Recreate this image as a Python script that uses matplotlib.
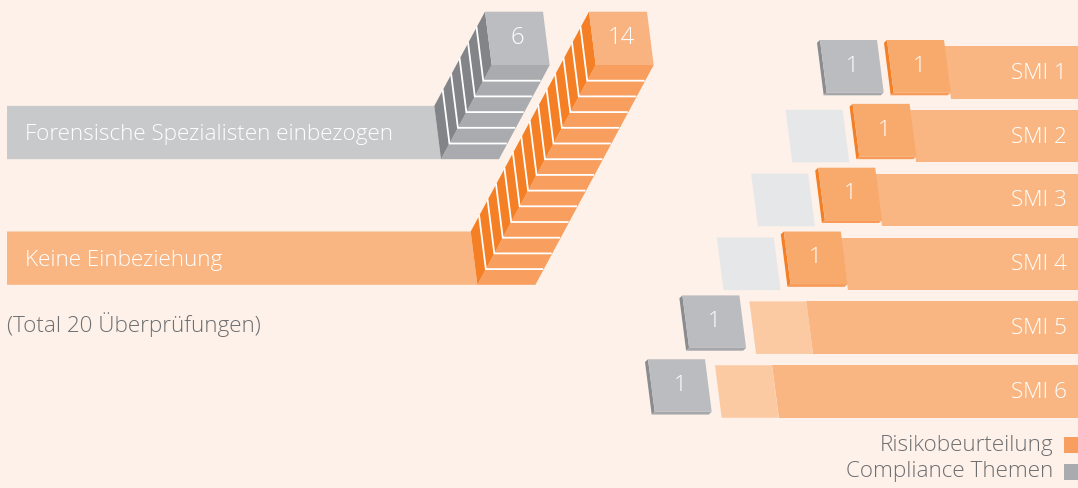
import matplotlib
matplotlib.use("Agg")
import matplotlib.pyplot as plt
from matplotlib.patches import Polygon

# ---------------- data ----------------
stack_labels = ["Forensische Spezialisten einbezogen", "Keine Einbeziehung"]
stack_counts = [6, 14]
total_note = "(Total 20 Überprüfungen)"

smi_labels = ["SMI 1", "SMI 2", "SMI 3", "SMI 4", "SMI 5", "SMI 6"]
risk = [1, 1, 1, 1, 0, 0]          # Risikobeurteilung
compliance = [1, 0, 0, 0, 1, 1]    # Compliance Themen
legend_labels = ["Risikobeurteilung", "Compliance Themen"]

# ---------------- style ----------------
BG = "#fdf1e9"
TXT = "#6d6e71"
GRAY = dict(bar="#c8c9cb", face="#bcbdc0", bottom="#a9abae", side="#828488")
ORNG = dict(bar="#f9b682", face="#f9b380", bottom="#f89e5e", side="#f47f25")
TILE_O = dict(face="#f8a96c", bottom="#f89a58", side="#f37f26")
TILE_G = dict(face="#bbbcbf", bottom="#a5a7aa", side="#8a8c8f")
PH_G = "#e6e7e9"
PH_O = "#fccaa2"
FONT = ["Open Sans", "DejaVu Sans"]
FS = 16.2

W, H = 1078, 488
fig = plt.figure(figsize=(W / 100, H / 100), dpi=100)
fig.patch.set_facecolor(BG)
ax = fig.add_axes([0, 0, 1, 1])
ax.set_xlim(0, W)
ax.set_ylim(H, 0)
ax.axis("off")
ax.set_facecolor(BG)


def poly(pts, color, z):
    ax.add_patch(Polygon(pts, closed=True, facecolor=color, edgecolor="none", zorder=z))


def txt(x, y, s, color="white", ha="left", size=FS, z=10):
    ax.text(x, y, s, color=color, ha=ha, va="center", fontsize=size,
            family=FONT, fontweight="light", zorder=z)


# ---------------- left: extruded stacks ----------------
top_y = 11.7
face_w, face_h, slant = 58.0, 53.3, 6.7
vx, vy = -8.45, 15.7
stack_x = [485.0, 589.0]
bar_left = 7.0
palettes = [GRAY, ORNG]

for label, n, x0, pal in zip(stack_labels, stack_counts, stack_x, palettes):
    TL = (x0, top_y)
    TR = (x0 + face_w, top_y)
    BR = (x0 + face_w + slant, top_y + face_h)
    BL = (x0 + slant, top_y + face_h)

    def sh(p, k):
        return (p[0] + k * vx, p[1] + k * vy)

    # horizontal bar joined to the bottom of the extrusion
    tN, bN = sh(TL, n), sh(BL, n)
    poly([(bar_left, tN[1]), tN, bN, (bar_left, bN[1])], pal["bar"], 1)
    txt(bar_left + 18, (tN[1] + bN[1]) / 2 + 2, label)

    # bottom face and side face of the extrusion
    poly([BL, BR, sh(BR, n), sh(BL, n)], pal["bottom"], 2)
    poly([TL, BL, sh(BL, n), sh(TL, n)], pal["side"], 2)
    for k in range(1, n):
        a, b, c = sh(TL, k), sh(BL, k), sh(BR, k)
        ax.plot([a[0], b[0], c[0] - 1.5], [a[1], b[1], c[1]], color="white",
                lw=1.3, solid_joinstyle="miter", zorder=3)
    # top face with the count
    poly([TL, TR, BR, BL], pal["face"], 4)
    txt((TL[0] + BR[0]) / 2, (TL[1] + BR[1]) / 2, str(n), ha="center", size=FS + 1)

txt(bar_left, 325, total_note, color=TXT)

# ---------------- right: SMI rows ----------------
row_top0, row_gap, bar_h = 46.0, 63.85, 52.5
slot_x0, row_shift, gray_off = 887.0, 34.4, -67.0
tile_w, lift = 57.0, 6.0
dx, dy = -3.0, 2.8


def slot(x, y):
    return [(x, y), (x + tile_w, y), (x + tile_w + slant, y + bar_h), (x + slant, y + bar_h)]


def tile(x, y, pal, value):
    yt = y - lift
    f = slot(x, yt)
    TL, TR, BR, BL = f
    poly([TL, BL, (BL[0] + dx, BL[1] + dy), (TL[0] + dx, TL[1] + dy)], pal["side"], 5)
    poly([BL, BR, (BR[0] + dx, BR[1] + dy), (BL[0] + dx, BL[1] + dy)], pal["bottom"], 5)
    poly(f, pal["face"], 6)
    txt((TL[0] + BR[0]) / 2, (TL[1] + BR[1]) / 2, str(value), ha="center")


for i, (lab, r, c) in enumerate(zip(smi_labels, risk, compliance)):
    y = row_top0 + i * row_gap
    xo = slot_x0 - i * row_shift
    xg = xo + gray_off
    s = slot(xo, y)
    # risk bar running to the right edge
    poly([s[1], (W + 5, y), (W + 5, y + bar_h), s[2]], ORNG["bar"], 1)
    txt(1067, y + bar_h / 2 + 1, lab, ha="right")
    if r:
        tile(xo, y, TILE_O, r)
    else:
        poly(s, PH_O, 2)
    if c:
        tile(xg, y, TILE_G, c)
    else:
        poly(slot(xg, y), PH_G, 2)

# ---------------- legend ----------------
leg_cols = [ORNG["bottom"], GRAY["bottom"]]
for j, (lab, col) in enumerate(zip(legend_labels, leg_cols)):
    yc = 445 + j * 26.5
    ax.add_patch(plt.Rectangle((1064, yc - 8), 20, 16, facecolor=col, edgecolor="none", zorder=5))
    txt(1053, yc, lab, color=TXT, ha="right")

fig.savefig("out.png", dpi=100, facecolor=BG)
